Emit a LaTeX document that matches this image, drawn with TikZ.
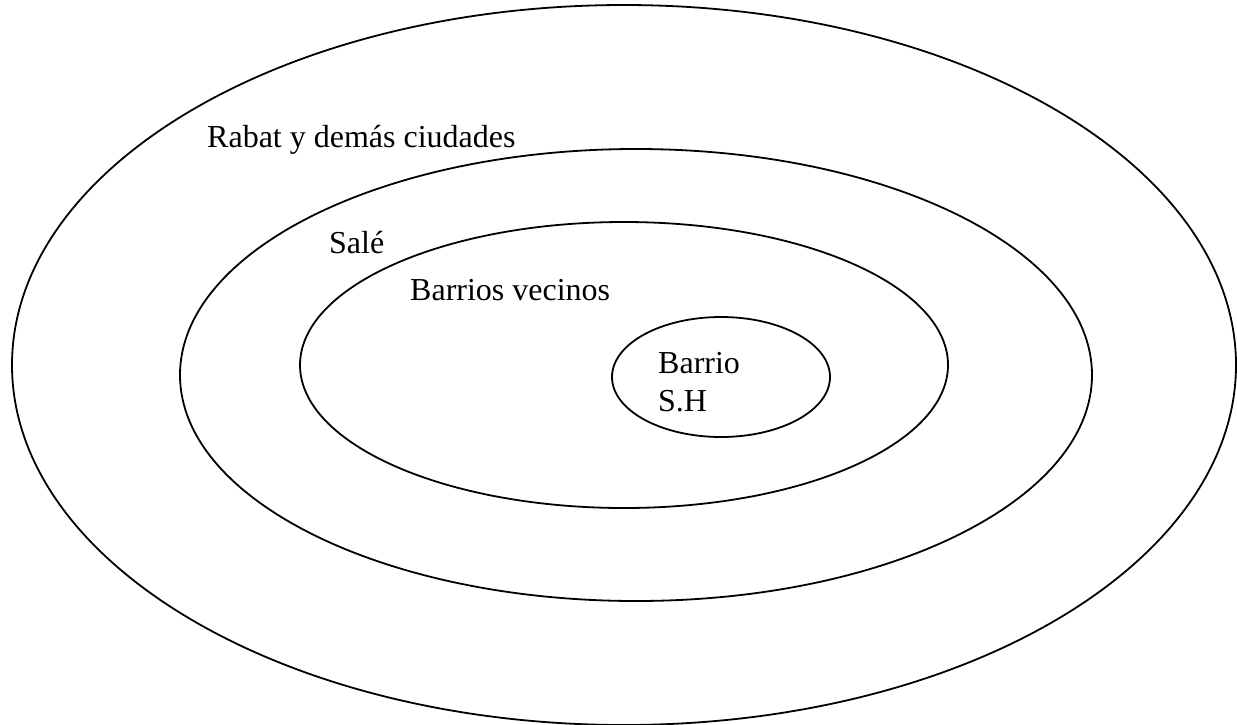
\documentclass[tikz,border=0pt]{standalone}
\usepackage{fontspec}
\setmainfont{Liberation Serif}
\begin{document}
\begin{tikzpicture}[x=1pt,y=-1pt,
  ring/.style={draw=black,line width=1.8pt},
  lbl/.style={anchor=base west,inner sep=0pt,font=\fontsize{32}{38}\selectfont}]
\useasboundingbox (0,0) rectangle (1237,724);
\begin{scope}
\clip (0,0) rectangle (1237,724);
\draw[ring] (624,365) ellipse [x radius=612, y radius=360];
\end{scope}
\draw[ring] (636,375) ellipse [x radius=456, y radius=226];
\draw[ring] (624,365) ellipse [x radius=324, y radius=143];
\draw[ring] (721,377) ellipse [x radius=109, y radius=60];
\node[lbl] (rabat) at (207,147) {Rabat y demás ciudades};
\node[lbl] (sale) at (329,253) {Salé};
\node[lbl] (vecinos) at (410,300) {Barrios vecinos};
\node[lbl,align=left] (barrio) at (658,411) {Barrio\\S.H};
\end{tikzpicture}
\end{document}
